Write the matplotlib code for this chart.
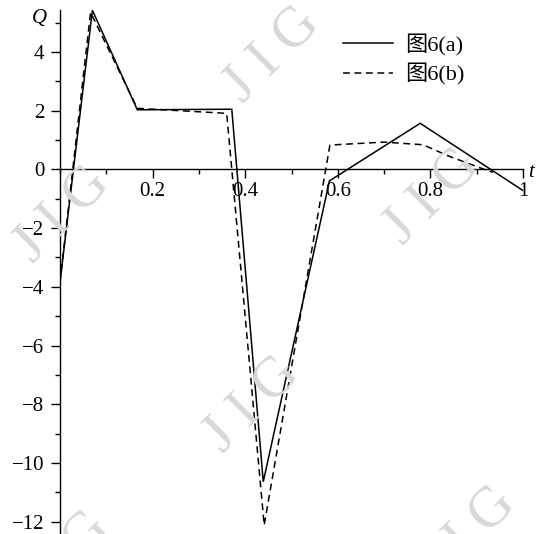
import matplotlib
matplotlib.use("Agg")
import matplotlib.pyplot as plt
from matplotlib.ticker import MultipleLocator, FixedLocator
from matplotlib.lines import Line2D

# ---- data ----
t_a = [0.0, 0.070, 0.167, 0.371, 0.439, 0.582, 0.778, 1.0]
q_a = [-3.84, 5.42, 2.03, 2.05, -10.64, -0.39, 1.57, -0.72]

t_b = [0.0, 0.066, 0.167, 0.360, 0.441, 0.583, 0.700, 0.784, 0.840, 0.920, 0.935]
q_b = [-3.84, 5.35, 2.08, 1.91, -12.12, 0.83, 0.93, 0.84, 0.45, -0.02, -0.10]

labels = ["图6(a)", "图6(b)"]
xticks_major = [0.2, 0.4, 0.6, 0.8, 1.0]
xtick_labels = ["0.2", "0.4", "0.6", "0.8", "1"]
yticks_major = [4, 2, 0, -2, -4, -6, -8, -10, -12]

W, H = 538, 534
fig = plt.figure(figsize=(W / 100, H / 100), dpi=100)
serif = "Liberation Serif"

# axes placement in pixels
x0, x1 = 60, 523
y_top = 10
ax = fig.add_axes([x0 / W, 0.0, (x1 - x0) / W, 1 - y_top / H])
ax.set_xlim(0, 1)
ax.set_ylim(-12.42, 5.43)
ax.patch.set_alpha(0)

# watermarks
wm_pos = [(272, 55), (62, 215), (432, 197), (252, 405), (62, 560), (468, 535)]
for (px, py) in wm_pos:
    fig.text(px / W, 1 - py / H, "J I G", fontsize=41, family=serif,
             color="#d8d8d8", rotation=45, ha="center", va="center", zorder=0)

ax.plot(t_a, q_a, color="black", lw=1.1, solid_joinstyle="miter", zorder=3)
ax.plot(t_b, q_b, color="black", lw=1.1, linestyle=(0, (4.5, 3)), zorder=3)

for s in ["top", "right"]:
    ax.spines[s].set_visible(False)
ax.spines["bottom"].set_position(("data", 0))
ax.spines["left"].set_position(("data", 0))
for s in ["bottom", "left"]:
    ax.spines[s].set_linewidth(1.0)

ax.xaxis.set_major_locator(FixedLocator(xticks_major))
ax.set_xticklabels(xtick_labels)
ax.xaxis.set_minor_locator(MultipleLocator(0.1))
ax.yaxis.set_major_locator(FixedLocator(yticks_major))
ax.yaxis.set_minor_locator(MultipleLocator(1))

ax.tick_params(axis="both", which="major", direction="out", length=6.3, width=1.0,
               labelsize=15, labelfontfamily=serif)
ax.tick_params(axis="both", which="minor", direction="out", length=3.6, width=1.0)
ax.tick_params(axis="x", which="major", pad=3)
ax.tick_params(axis="y", which="major", pad=5)

ax.text(-0.045, 5.15, "Q", transform=ax.transData, fontsize=15, family=serif,
        style="italic", ha="center", va="center", clip_on=False)
ax.text(1.018, -0.1, "t", transform=ax.transData, fontsize=15, family=serif,
        style="italic", ha="center", va="center", clip_on=False)

handles = [Line2D([], [], color="black", lw=1.1),
           Line2D([], [], color="black", lw=1.1, linestyle=(0, (4.5, 3)))]
leg = ax.legend(handles, labels, loc="upper left",
                bbox_to_anchor=(343 / W, 1 - 34 / H), bbox_transform=fig.transFigure,
                frameon=False, handlelength=2.25, handletextpad=0.55,
                labelspacing=0.33, borderpad=0, borderaxespad=0,
                prop={"family": [serif, "Noto Sans CJK SC"], "size": 16})

fig.savefig("out.png", dpi=100)
